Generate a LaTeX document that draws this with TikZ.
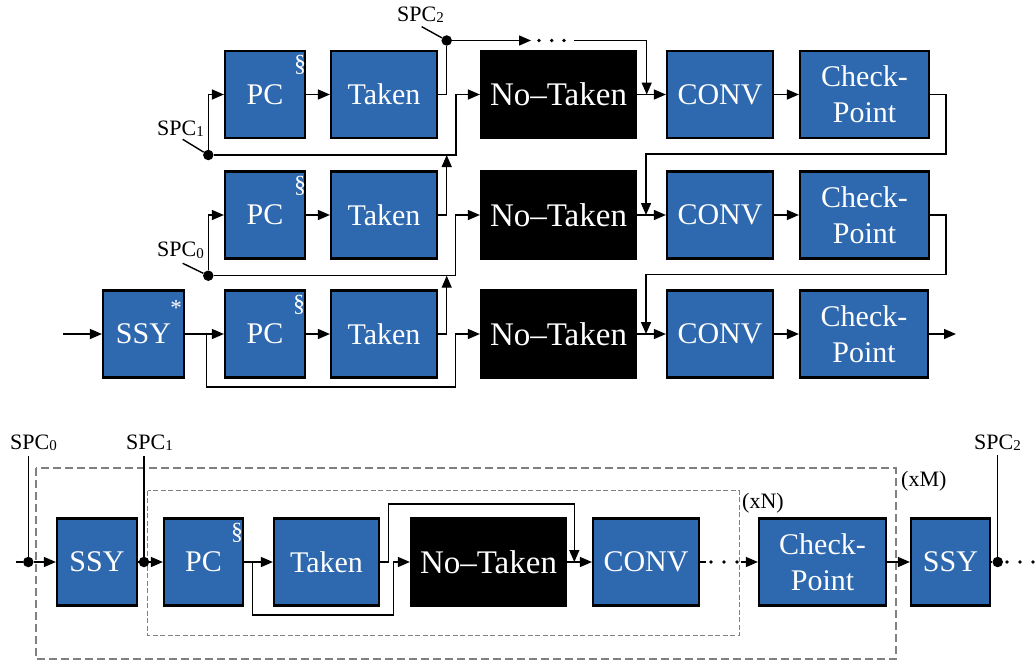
\documentclass[tikz,border=0pt]{standalone}
\usepackage{fontspec}
\setmainfont{Liberation Serif}
\usetikzlibrary{arrows.meta,calc}
\definecolor{boxblue}{RGB}{46,104,174}
\newcommand\spclabel[1]{SPC{\fontsize{15}{15}\selectfont\raisebox{-1.5pt}{#1}}}

\begin{document}
\begin{tikzpicture}[x=1pt,y=-1pt,
  blk/.style={draw=black, line width=2.2pt, fill=boxblue, text=white,
    minimum height=87pt, inner sep=0pt, align=center,
    font=\fontsize{30}{36}\selectfont},
  dark/.style={blk, fill=black, font=\fontsize{33}{36}\selectfont},
  wire/.style={line width=1.4pt},
  arr/.style={wire, -{Triangle[length=12pt,width=10pt]}},
  jdot/.style={circle, fill=black, inner sep=0pt, minimum size=10.5pt},
  sdot/.style={circle, fill=black, inner sep=0pt, minimum size=3.8pt},
  lbl/.style={font=\fontsize{22}{24}\selectfont, inner sep=0pt, anchor=base west},
  tagmark/.style={text=white, font=\fontsize{24}{24}\selectfont, inner sep=0pt},
  starmark/.style={text=white, font=\fontsize{23}{23}\selectfont, inner sep=0pt}
]
\useasboundingbox (0,0) rectangle (1035,661);

% ---------------- upper scheme: three chained rows ----------------
% row 1
\node[blk, minimum width=80pt]  (pc1) at (265,94.5)   {PC};
\node[blk, minimum width=106pt] (tk1) at (384,94.5)   {Taken};
\node[dark, minimum width=155pt](nt1) at (558.5,94.5) {No–Taken};
\node[blk, minimum width=106pt] (cv1) at (720,94.5)   {CONV};
\node[blk, minimum width=129pt] (cp1) at (864.5,94.5) {Check-\\Point};
% row 2
\node[blk, minimum width=80pt]  (pc2) at (265,215)   {PC};
\node[blk, minimum width=106pt] (tk2) at (384,215)   {Taken};
\node[dark, minimum width=155pt](nt2) at (558.5,215) {No–Taken};
\node[blk, minimum width=106pt] (cv2) at (720,215)   {CONV};
\node[blk, minimum width=129pt] (cp2) at (864.5,215) {Check-\\Point};
% row 3
\node[blk, minimum width=81pt]  (ss3) at (143.5,334) {SSY};
\node[blk, minimum width=80pt]  (pc3) at (265,334)   {PC};
\node[blk, minimum width=106pt] (tk3) at (384,334)   {Taken};
\node[dark, minimum width=155pt](nt3) at (558.5,334) {No–Taken};
\node[blk, minimum width=106pt] (cv3) at (720,334)   {CONV};
\node[blk, minimum width=128pt] (cp3) at (864,334)   {Check-\\Point};

\node[tagmark]  (pc1s) at ($(pc1.north east)+(-6,15)$) {\S};
\node[tagmark]  (pc2s) at ($(pc2.north east)+(-6,15)$) {\S};
\node[tagmark]  (pc3s) at ($(pc3.north east)+(-7,15)$) {\S};
\node[starmark] (ss3s) at ($(ss3.north east)+(-9,19)$) {*};

% split points
\node[jdot] (spc2) at (446.7,40.5) {};
\node[jdot] (spc1) at (208.3,155)  {};
\node[jdot] (spc0) at (208.3,275.7){};
\node[sdot] (td1) at (539,40.5) {};
\node[sdot] (td2) at (551.7,40.5) {};
\node[sdot] (td3) at (564,40.5) {};

\coordinate (j1)  at (456,155);
\coordinate (j1b) at (446.7,155);
\coordinate (j2)  at (455.5,275.7);
\coordinate (j2b) at (446.7,275.7);
\coordinate (m1)  at (646.7,94.5);
\coordinate (m2)  at (646,215);
\coordinate (m3)  at (646,334);
\coordinate (dA)  at (531,40.5);
\coordinate (dB)  at (574,40.5);
\coordinate (r1a) at (946,154);
\coordinate (r1b) at (646,154);
\coordinate (r2a) at (946,274.5);
\coordinate (r2b) at (646,274.5);
\coordinate (in3) at (63,334);
\coordinate (out3) at (956,334);
\coordinate (b3a) at (206.7,334);
\coordinate (b3b) at (455.5,387);
\coordinate (ld1) at (182.7,139.3);
\coordinate (ld2) at (421.7,26.7);
\coordinate (ld0) at (182.7,263.3);

% row 1 wiring
\draw[arr] (spc1) |- (pc1.west);
\draw[arr] (pc1) -- (tk1);
\draw[wire] (tk1.east) -| (spc2);
\draw[arr] (spc2) -- (dA);
\draw[arr] (dB) -| (m1);
\draw[arr] (spc1) -- (j1) |- (nt1.west);
\draw[arr] (nt1) -- (cv1);
\draw[arr] (cv1) -- (cp1);
\draw[arr] (cp1.east) -| (r1a) -- (r1b) -- (m2);
% row 2 wiring
\draw[arr] (spc0) |- (pc2.west);
\draw[arr] (pc2) -- (tk2);
\draw[arr] (tk2.east) -| (j1b);
\draw[arr] (spc0) -- (j2) |- (nt2.west);
\draw[arr] (nt2) -- (cv2);
\draw[arr] (cv2) -- (cp2);
\draw[arr] (cp2.east) -| (r2a) -- (r2b) -- (m3);
% row 3 wiring
\draw[arr] (in3) -- (ss3.west);
\draw[arr] (ss3) -- (pc3);
\draw[arr] (b3a) |- (b3b) |- (nt3.west);
\draw[arr] (pc3) -- (tk3);
\draw[arr] (tk3.east) -| (j2b);
\draw[arr] (nt3) -- (cv3);
\draw[arr] (cv3) -- (cp3);
\draw[arr] (cp3) -- (out3);

% split labels
\node[lbl] (l1) at (157,135)   {\spclabel{1}};
\node[lbl] (l2) at (397,21.5)  {\spclabel{2}};
\node[lbl] (l0) at (157,256.7) {\spclabel{0}};
\draw[wire] (ld1) -- (spc1);
\draw[wire] (ld2) -- (spc2);
\draw[wire] (ld0) -- (spc0);

% ---------------- lower scheme: nested loops ----------------
\draw[gray, line width=1.7pt, dash pattern=on 8pt off 4pt]
  (35.7,468.3) rectangle (895.7,659);
\draw[gray, line width=1.2pt, dash pattern=on 5pt off 2.5pt]
  (147.7,490.7) rectangle (739.3,635.7);
\node[lbl] (xn) at (742,508) {(xN)};
\node[lbl] (xm) at (901,486) {(xM)};

\node[blk, minimum width=80pt]  (bss1) at (97,562)    {SSY};
\node[blk, minimum width=79pt]  (bpc)  at (203.5,562) {PC};
\node[blk, minimum width=105pt] (btk)  at (326.5,562) {Taken};
\node[dark, minimum width=155pt](bnt)  at (488.5,562) {No–Taken};
\node[blk, minimum width=106pt] (bcv)  at (646,562)   {CONV};
\node[blk, minimum width=127pt] (bcp)  at (822.5,562) {Check-\\Point};
\node[blk, minimum width=79pt]  (bss2) at (950.5,562) {SSY};
\node[tagmark] (bpcs) at ($(bpc.north east)+(-7,15)$) {\S};

\node[jdot] (bd0) at (28.3,562)  {};
\node[jdot] (bd1) at (144,562)   {};
\node[jdot] (bd2) at (997.7,562) {};
\node[sdot] (bm1) at (711,562) {};
\node[sdot] (bm2) at (724,562) {};
\node[sdot] (bm3) at (737,562) {};
\node[sdot] (be1) at (1007,562) {};
\node[sdot] (be2) at (1020,562) {};
\node[sdot] (be3) at (1033,562) {};

\coordinate (bin)  at (16,562);
\coordinate (bt0)  at (28.3,456);
\coordinate (bt1)  at (144,456);
\coordinate (bt2)  at (997.7,455);
\coordinate (bya)  at (252.3,562);
\coordinate (byb)  at (393.3,615);
\coordinate (bta)  at (388.7,504);
\coordinate (btm)  at (574.3,562);
\coordinate (bcva) at (706,562);
\coordinate (bcvb) at (741,562);

\draw[wire] (bin) -- (bd0);
\draw[arr] (bd0) -- (bss1);
\draw[wire] (bss1) -- (bd1);
\draw[arr] (bd1) -- (bpc);
\draw[arr] (bpc) -- (btk);
\draw[arr] (bya) |- (byb) |- (bnt.west);
\draw[arr] (btk.east) -| (bta) -| (btm);
\draw[arr] (bnt) -- (bcv);
\draw[wire] (bcv.east) -- (bcva);
\draw[arr] (bcvb) -- (bcp);
\draw[arr] (bcp) -- (bss2);
\draw[wire] (bss2) -- (bd2);
\draw[wire] (bt0) -- (bd0);
\draw[wire] (bt1) -- (bd1);
\draw[wire] (bt2) -- (bd2);

\node[lbl] (bl0) at (10,449.3)  {\spclabel{0}};
\node[lbl] (bl1) at (126,449.3) {\spclabel{1}};
\node[lbl] (bl2) at (974,449.3) {\spclabel{2}};
\end{tikzpicture}
\end{document}
